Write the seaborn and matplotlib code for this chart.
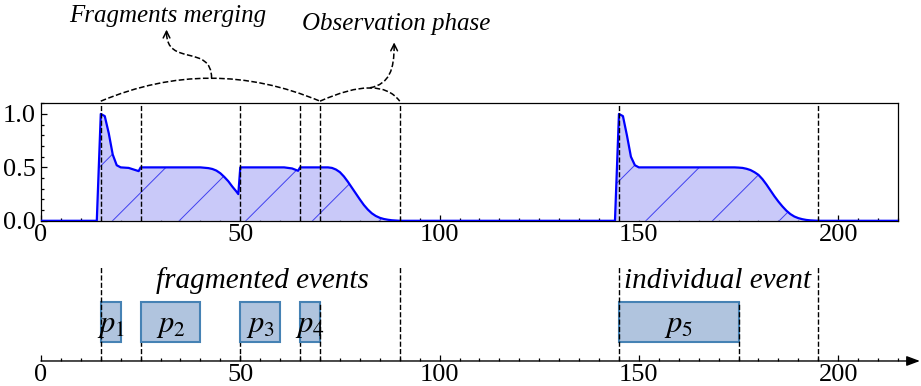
import numpy as np
import pandas as pd
import matplotlib
matplotlib.use('Agg')
import matplotlib.pyplot as plt
from matplotlib.path import Path
from matplotlib.patches import PathPatch, FancyArrowPatch
from matplotlib.ticker import MultipleLocator
import seaborn as sns

# phases p1..p5 (start / end time)
phase_names = ['$p_1$', '$p_2$', '$p_3$', '$p_4$', '$p_5$']
phase_start = [15, 25, 50, 65, 145]
phase_end = [20, 40, 60, 70, 175]

# dashed marker lines
markers_top = [15, 25, 50, 65, 70, 90, 145, 195]
markers_tall = [15, 90, 145, 195]
markers_short = [25, 50, 65]
markers_over = [70, 175]

# group labels of the lower panel
group_labels = ['fragmented events', 'individual event']
group_x = [55.5, 146.3]
group_ha = ['center', 'left']

# activity curve
curve_t = [0, 14, 15, 16, 17, 18, 19, 20, 22, 24.5,
           25, 40, 42, 43, 44, 45, 46, 47, 48, 49,
           49.5, 50, 61, 63, 64.5, 65, 72, 73, 74, 75,
           76, 77, 78, 79, 80, 81, 82, 83, 84, 85,
           86, 87, 88, 90, 144, 145, 146, 147, 148, 149,
           150, 174, 175, 176, 177, 178, 179, 180, 181, 182,
           183, 184, 185, 186, 187, 188, 189, 190, 191, 192,
           193, 195, 215]
curve_y = [0, 0, 1.0, 0.98, 0.82, 0.62, 0.52, 0.5, 0.495, 0.465,
           0.5, 0.5, 0.493, 0.485, 0.47, 0.445, 0.41, 0.37, 0.32, 0.275,
           0.25, 0.5, 0.5, 0.49, 0.468, 0.5, 0.5, 0.495, 0.48, 0.455,
           0.415, 0.365, 0.31, 0.255, 0.2, 0.148, 0.105, 0.07, 0.045, 0.028,
           0.017, 0.01, 0.005, 0, 0, 1.0, 0.98, 0.8, 0.6, 0.52,
           0.5, 0.5, 0.498, 0.495, 0.487, 0.475, 0.455, 0.43, 0.39, 0.34,
           0.285, 0.23, 0.18, 0.135, 0.095, 0.063, 0.04, 0.025, 0.015, 0.008,
           0.004, 0, 0]

# annotation texts above the chart
note_labels = ['Fragments merging', 'Observation phase']

sns.set_theme(style='ticks')
plt.rcParams['font.family'] = ['Liberation Serif', 'DejaVu Serif']
plt.rcParams['mathtext.fontset'] = 'stix'
plt.rcParams['hatch.linewidth'] = 0.35
plt.rcParams['axes.linewidth'] = 0.45
plt.rcParams['axes.edgecolor'] = 'black'
plt.rcParams['text.color'] = 'black'

df = pd.DataFrame({'t': curve_t, 'y': curve_y})

fig = plt.figure(figsize=(4.605, 1.93), dpi=200)
ax = fig.add_axes([0.0445, 0.428, 0.9305, 0.3044])
ax2 = fig.add_axes([0.0445, 0.0648, 0.9305, 0.256])

# ---- top panel
ax.fill_between(df['t'], df['y'], facecolor='#c9c9f9', edgecolor='#4040f0',
                hatch='/', linewidth=0, zorder=1)
sns.lineplot(data=df, x='t', y='y', ax=ax, color='blue', lw=0.8,
             estimator=None, sort=False, zorder=3)
for m in markers_top:
    ax.axvline(m, color='black', ls='--', lw=0.5, zorder=4)

ax.set_xlim(0, 215)
ax.set_ylim(0, 1.1)
ax.set_xlabel('')
ax.set_ylabel('')
ax.set_xticks([0, 50, 100, 150, 200])
ax.set_yticks([0, 0.5, 1.0])
ax.set_yticklabels(['0.0', '0.5', '1.0'])
ax.xaxis.set_minor_locator(MultipleLocator(5))
ax.yaxis.set_minor_locator(MultipleLocator(0.1))
ax.tick_params(which='both', direction='in', top=False, right=False,
               labelsize=9.5, width=0.45, colors='black')
ax.tick_params(which='major', length=2.2)
ax.tick_params(which='minor', length=1.2)
ax.tick_params(axis='x', pad=1)
ax.tick_params(axis='y', pad=2)
for s in ax.spines.values():
    s.set_visible(True)
    s.set_color('black')

# braces over merged fragments and observation phase
def brace(x0, x1, xc, yb, yc):
    p = Path([(x0, yb), (xc, yc), (x1, yb)],
             [Path.MOVETO, Path.CURVE3, Path.CURVE3])
    ax.add_patch(PathPatch(p, fill=False, ls='--', lw=0.55, color='black',
                           clip_on=False))

def squiggle(pts, tip):
    p = Path(pts, [Path.MOVETO, Path.CURVE4, Path.CURVE4, Path.CURVE4])
    ax.add_patch(PathPatch(p, fill=False, ls='--', lw=0.55, color='black',
                           clip_on=False))
    ax.add_patch(FancyArrowPatch((tip[0], tip[1] - 0.04), tip,
                                 arrowstyle='->', mutation_scale=6, lw=0.55,
                                 color='black', clip_on=False,
                                 shrinkA=0, shrinkB=0))

brace(15, 70, 42.5, 1.12, 1.55)
brace(70, 90, 85, 1.12, 1.37)
squiggle([(42.8, 1.334), (42.8, 1.66), (31.5, 1.44), (31.5, 1.76)], (31.5, 1.79))
squiggle([(82.5, 1.245), (87.5, 1.28), (88.6, 1.42), (88.6, 1.64)], (88.6, 1.67))

ax.text(31.8, 1.92, note_labels[0], ha='center', va='center', style='italic',
        fontsize=9, color='black')
ax.text(89, 1.84, note_labels[1], ha='center', va='center', style='italic',
        fontsize=9, color='black')

# ---- bottom panel (timeline)
ax2.set_xlim(0, 215)
ax2.set_ylim(0, 1)
widths = [e - s for s, e in zip(phase_start, phase_end)]
ax2.bar(phase_start, 0.41, width=widths, bottom=0.19, align='edge',
        color='#b0c4de', edgecolor='#4682b4', lw=0.75, zorder=2)
for s, w, name in zip(phase_start, widths, phase_names):
    ax2.text(s + w / 2, 0.36, name, ha='center', va='center', fontsize=11,
             color='black', zorder=5)

for m in markers_tall:
    ax2.plot([m, m], [0, 0.95], color='black', ls='--', lw=0.5, zorder=4)
for m in markers_short:
    ax2.plot([m, m], [0, 0.19], color='black', ls='--', lw=0.5, zorder=1)
for m in markers_over:
    ax2.plot([m, m], [0, 0.6], color='black', ls='--', lw=0.5, zorder=4)

for lab, x, ha in zip(group_labels, group_x, group_ha):
    ax2.text(x, 0.81, lab, ha=ha, va='center', style='italic', fontsize=10.5,
             color='black')

ax2.annotate('', xy=(220.5, 0), xytext=(0, 0), annotation_clip=False,
             arrowprops=dict(arrowstyle='-|>,head_length=0.4,head_width=0.15',
                             mutation_scale=10, lw=0.5, color='black',
                             shrinkA=0, shrinkB=0))
for side in ['left', 'top', 'right', 'bottom']:
    ax2.spines[side].set_visible(False)
ax2.set_yticks([])
ax2.set_xticks([0, 50, 100, 150, 200])
ax2.xaxis.set_minor_locator(MultipleLocator(5))
ax2.tick_params(which='both', direction='in', labelsize=9.5, width=0.45,
                colors='black', pad=1)
ax2.tick_params(which='major', length=2.2)
ax2.tick_params(which='minor', length=1.2)

fig.savefig('out.png', dpi=200)
